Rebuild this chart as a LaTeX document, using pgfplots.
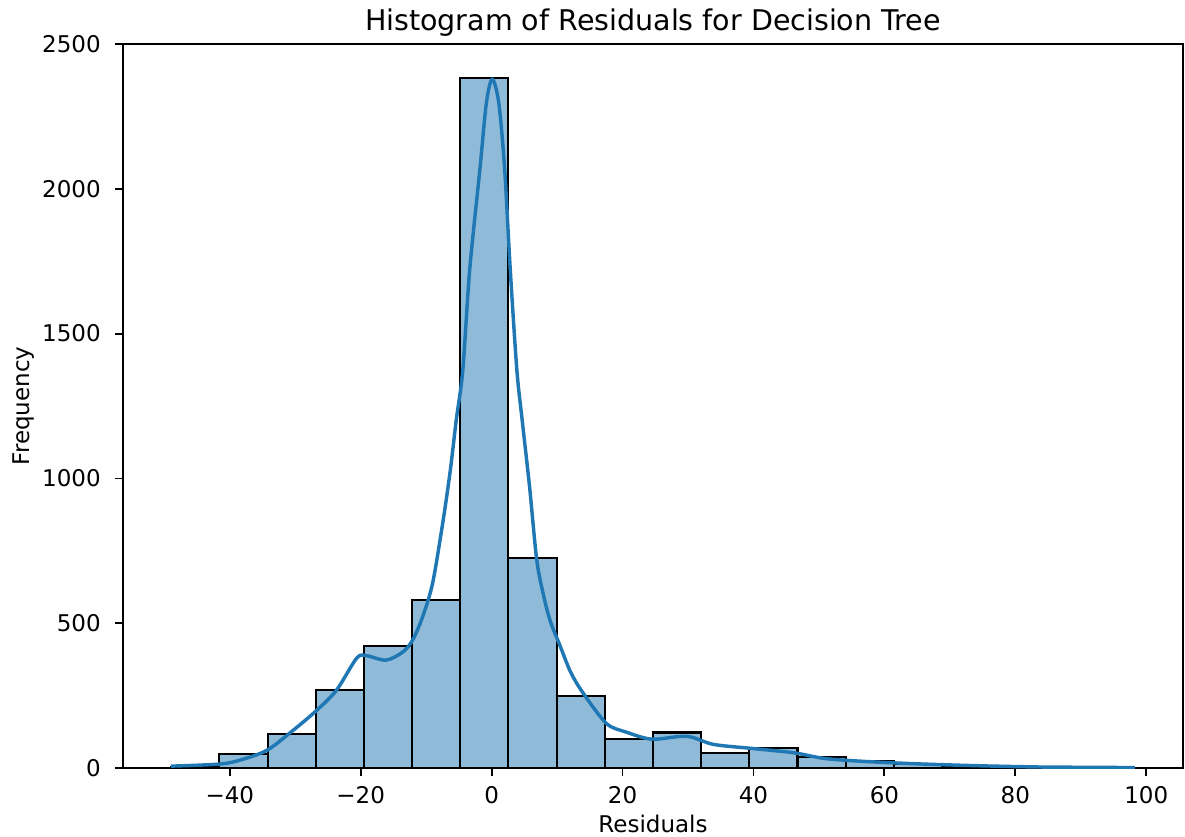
\documentclass[border=0pt]{standalone}
\usepackage{fontspec}
\setmainfont{DejaVu Sans}
\usepackage{pgfplots}
\pgfplotsset{compat=1.18}
\definecolor{barfill}{HTML}{8FBBD9}
\definecolor{kdeblue}{HTML}{1F77B4}

\begin{document}
\begin{tikzpicture}
\begin{axis}[
    name=ax,
    scale only axis,
    width=461pt, height=315pt,
    xmin=-56.31, xmax=105.61,
    ymin=0, ymax=2500,
    xtick={-40,-20,0,20,40,60,80,100},
    xticklabels={−40,−20,0,20,40,60,80,100},
    ytick={0,500,1000,1500,2000,2500},
    tick align=outside,
    major tick length=3.5pt,
    tick style={black, line width=0.8pt},
    axis line style={black, line width=0.8pt},
    xtick pos=bottom, ytick pos=left,
    /pgf/number format/assume math mode=true,
    /pgf/number format/1000 sep={},
    tick label style={font=\fontsize{10}{12}\selectfont, inner sep=0pt},
    xticklabel shift=4.4pt,
    yticklabel shift=6pt,
    title style={font=\fontsize{12.4}{14}\selectfont,
        at={(axis description cs:0.5,1)}, anchor=base},
    title={Histogram of Residuals for Decision Tree},
    xlabel={Residuals},
    ylabel={Frequency},
    xlabel style={font=\fontsize{10}{12}\selectfont, inner sep=0pt,
        at={(axis description cs:0.5,0)}, anchor=base, yshift=-28pt},
    ylabel style={font=\fontsize{10}{12}\selectfont,
        at={(axis description cs:-0.0935,0.5)}, anchor=center},
]
% histogram: 20 bins of width 7.36 from -48.95 to 98.25
\addplot[ybar interval, fill=barfill, draw=black, line width=0.9pt]
    coordinates{(-48.95,3)(-41.59,48)(-34.23,117)(-26.87,269)(-19.51,421)
                (-12.15,582)(-4.79,2381)(2.57,725)(9.93,249)(17.29,101)
                (24.65,123)(32.01,53)(39.37,68)(46.73,37)(54.09,26)
                (61.45,13)(68.81,8)(76.17,3)(83.53,2)(90.89,1)(98.25,1)};
% kde curve
\addplot[kdeblue, line width=1.5pt, smooth, tension=0.5]
    coordinates{(-49.0,7)(-41.6,14)(-38.4,28)(-34.3,62)(-30.3,131)
                (-26.7,200)(-23.7,269)(-20.6,380)(-19.1,388)(-16.1,373)
                (-13.5,402)(-12.0,445)(-10.5,525)(-9.0,640)(-7.4,856)
                (-6.3,1030)(-5.4,1202)(-4.4,1374)(-3.35,1720)(-1.8,2065)
                (-0.8,2296)(0.1,2378)(1.1,2296)(2.0,2065)(2.85,1720)
                (3.86,1374)(4.7,1195)(5.8,971)(6.9,718)(8.0,590)
                (9.0,505)(10.5,420)(12.0,335)(13.8,265)(17.5,155)
                (20.5,125)(24.5,100)(29.8,110)(33.9,82)(39.8,68)
                (46.2,53)(51.0,33)(58.0,22)(66.2,14)(75.0,8)
                (83.8,4)(91.0,3)(98.25,2)};
\end{axis}
\path ([xshift=-53.5pt,yshift=-29.6pt]ax.south west)
    rectangle ([xshift=0.9pt,yshift=19.1pt]ax.north east);
\end{tikzpicture}
\end{document}
